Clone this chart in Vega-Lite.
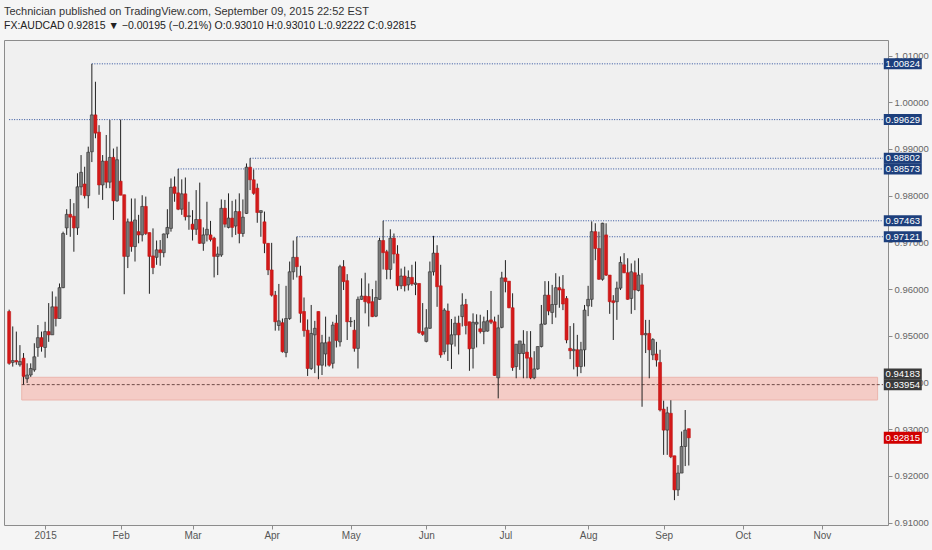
{
  "$schema": "https://vega.github.io/schema/vega-lite/v6.json",
  "width": 884,
  "height": 485,
  "autosize": "none",
  "padding": {"left": 4, "top": 40, "right": 44, "bottom": 25},
  "background": "#f5f5f5",
  "title": {
    "text": "Technician published on TradingView.com, September 09, 2015 22:52 EST",
    "subtitle": "FX:AUDCAD 0.92815 \u25bc \u22120.00195 (\u22120.21%) O:0.93010 H:0.93010 L:0.92222 C:0.92815",
    "anchor": "start",
    "frame": "group",
    "offset": 9,
    "font": "Liberation Sans, sans-serif",
    "fontSize": 11,
    "fontWeight": "normal",
    "color": "#333333",
    "subtitleFont": "Liberation Sans, sans-serif",
    "subtitleFontSize": 10.5,
    "subtitleColor": "#222222",
    "subtitlePadding": 4
  },
  "datasets": {
    "bars": [
      {"i": -10, "o": 0.9552, "h": 0.9556, "l": 0.9438, "c": 0.9441},
      {"i": -9, "o": 0.9443, "h": 0.9520, "l": 0.9434, "c": 0.9447},
      {"i": -8, "o": 0.9447, "h": 0.9509, "l": 0.9438, "c": 0.9444},
      {"i": -7, "o": 0.9438, "h": 0.9480, "l": 0.9434, "c": 0.9445},
      {"i": -6, "o": 0.9452, "h": 0.9463, "l": 0.93954, "c": 0.9413},
      {"i": -5, "o": 0.9408, "h": 0.9441, "l": 0.9399, "c": 0.9416},
      {"i": -4, "o": 0.9416, "h": 0.9441, "l": 0.9412, "c": 0.9430},
      {"i": -3, "o": 0.9427, "h": 0.9484, "l": 0.9423, "c": 0.9455},
      {"i": -2, "o": 0.9475, "h": 0.9523, "l": 0.9455, "c": 0.9496},
      {"i": -1, "o": 0.9496, "h": 0.9509, "l": 0.9466, "c": 0.9477},
      {"i": 0, "o": 0.9475, "h": 0.9530, "l": 0.9453, "c": 0.9509},
      {"i": 1, "o": 0.9509, "h": 0.9570, "l": 0.9487, "c": 0.9502},
      {"i": 2, "o": 0.9502, "h": 0.9595, "l": 0.9502, "c": 0.9562},
      {"i": 3, "o": 0.9562, "h": 0.9584, "l": 0.9520, "c": 0.9537},
      {"i": 4, "o": 0.9537, "h": 0.9612, "l": 0.9537, "c": 0.9603},
      {"i": 5, "o": 0.9603, "h": 0.9723, "l": 0.9602, "c": 0.9719},
      {"i": 6, "o": 0.9731, "h": 0.9771, "l": 0.9716, "c": 0.9760},
      {"i": 7, "o": 0.9760, "h": 0.9793, "l": 0.9712, "c": 0.9754},
      {"i": 8, "o": 0.9756, "h": 0.9784, "l": 0.9680, "c": 0.9731},
      {"i": 9, "o": 0.9731, "h": 0.9848, "l": 0.9716, "c": 0.9819},
      {"i": 10, "o": 0.9819, "h": 0.9887, "l": 0.9801, "c": 0.9850},
      {"i": 11, "o": 0.9825, "h": 0.9862, "l": 0.9794, "c": 0.9800},
      {"i": 12, "o": 0.9800, "h": 0.9905, "l": 0.9773, "c": 0.9893},
      {"i": 13, "o": 0.9894, "h": 1.00824, "l": 0.9872, "c": 0.9973},
      {"i": 14, "o": 0.9973, "h": 1.0044, "l": 0.9923, "c": 0.9934},
      {"i": 15, "o": 0.9936, "h": 0.9951, "l": 0.9802, "c": 0.9823},
      {"i": 16, "o": 0.9823, "h": 0.9887, "l": 0.9791, "c": 0.9874},
      {"i": 17, "o": 0.9874, "h": 0.9930, "l": 0.9816, "c": 0.9829},
      {"i": 18, "o": 0.9829, "h": 0.9962, "l": 0.9816, "c": 0.9882},
      {"i": 19, "o": 0.9882, "h": 0.9901, "l": 0.9748, "c": 0.9789},
      {"i": 20, "o": 0.9789, "h": 0.9905, "l": 0.9787, "c": 0.9877},
      {"i": 21, "o": 0.9831, "h": 0.99629, "l": 0.9801, "c": 0.9801},
      {"i": 22, "o": 0.9802, "h": 0.9802, "l": 0.9589, "c": 0.9670},
      {"i": 23, "o": 0.9670, "h": 0.9751, "l": 0.9645, "c": 0.9744},
      {"i": 24, "o": 0.9744, "h": 0.9794, "l": 0.9680, "c": 0.9691},
      {"i": 25, "o": 0.9691, "h": 0.9794, "l": 0.9659, "c": 0.9748},
      {"i": 26, "o": 0.9723, "h": 0.9759, "l": 0.9698, "c": 0.9716},
      {"i": 27, "o": 0.9716, "h": 0.9801, "l": 0.9702, "c": 0.9777},
      {"i": 28, "o": 0.9777, "h": 0.9798, "l": 0.9716, "c": 0.9719},
      {"i": 29, "o": 0.9721, "h": 0.9721, "l": 0.9590, "c": 0.9670},
      {"i": 30, "o": 0.9671, "h": 0.9730, "l": 0.9632, "c": 0.9646},
      {"i": 31, "o": 0.9668, "h": 0.9704, "l": 0.9652, "c": 0.9684},
      {"i": 32, "o": 0.9684, "h": 0.9705, "l": 0.9650, "c": 0.9678},
      {"i": 33, "o": 0.9678, "h": 0.9719, "l": 0.9668, "c": 0.9718},
      {"i": 34, "o": 0.9718, "h": 0.9771, "l": 0.9709, "c": 0.9732},
      {"i": 35, "o": 0.9730, "h": 0.9837, "l": 0.9723, "c": 0.9818},
      {"i": 36, "o": 0.9819, "h": 0.9841, "l": 0.9787, "c": 0.9805},
      {"i": 37, "o": 0.9806, "h": 0.98573, "l": 0.9769, "c": 0.9771},
      {"i": 38, "o": 0.9771, "h": 0.9835, "l": 0.9759, "c": 0.9804},
      {"i": 39, "o": 0.9804, "h": 0.9839, "l": 0.9747, "c": 0.9755},
      {"i": 40, "o": 0.9755, "h": 0.9787, "l": 0.9727, "c": 0.9757},
      {"i": 41, "o": 0.9739, "h": 0.9769, "l": 0.9704, "c": 0.9728},
      {"i": 42, "o": 0.9728, "h": 0.9812, "l": 0.9716, "c": 0.9749},
      {"i": 43, "o": 0.9749, "h": 0.9828, "l": 0.9697, "c": 0.9698},
      {"i": 44, "o": 0.9698, "h": 0.9732, "l": 0.9682, "c": 0.9716},
      {"i": 45, "o": 0.9716, "h": 0.9787, "l": 0.9702, "c": 0.9728},
      {"i": 46, "o": 0.9716, "h": 0.9746, "l": 0.9702, "c": 0.9706},
      {"i": 47, "o": 0.9709, "h": 0.9712, "l": 0.9625, "c": 0.9670},
      {"i": 48, "o": 0.9670, "h": 0.9691, "l": 0.9630, "c": 0.9675},
      {"i": 49, "o": 0.9673, "h": 0.9792, "l": 0.9669, "c": 0.9773},
      {"i": 50, "o": 0.9773, "h": 0.9791, "l": 0.9732, "c": 0.9739},
      {"i": 51, "o": 0.9732, "h": 0.9805, "l": 0.9730, "c": 0.9752},
      {"i": 52, "o": 0.9752, "h": 0.9789, "l": 0.9711, "c": 0.9732},
      {"i": 53, "o": 0.9735, "h": 0.9792, "l": 0.9716, "c": 0.9766},
      {"i": 54, "o": 0.9766, "h": 0.9805, "l": 0.9698, "c": 0.9719},
      {"i": 55, "o": 0.9719, "h": 0.9792, "l": 0.9712, "c": 0.9754},
      {"i": 56, "o": 0.9762, "h": 0.9869, "l": 0.9761, "c": 0.9861},
      {"i": 57, "o": 0.9861, "h": 0.98802, "l": 0.9812, "c": 0.9834},
      {"i": 58, "o": 0.9834, "h": 0.9856, "l": 0.9802, "c": 0.9805},
      {"i": 59, "o": 0.9816, "h": 0.9826, "l": 0.9742, "c": 0.9764},
      {"i": 60, "o": 0.9764, "h": 0.9768, "l": 0.9712, "c": 0.9768},
      {"i": 61, "o": 0.9744, "h": 0.9766, "l": 0.9677, "c": 0.9698},
      {"i": 62, "o": 0.9698, "h": 0.9698, "l": 0.9630, "c": 0.9641},
      {"i": 63, "o": 0.9641, "h": 0.9699, "l": 0.9584, "c": 0.9587},
      {"i": 64, "o": 0.9587, "h": 0.9596, "l": 0.9511, "c": 0.9530},
      {"i": 65, "o": 0.9522, "h": 0.9611, "l": 0.9511, "c": 0.9532},
      {"i": 66, "o": 0.9528, "h": 0.9537, "l": 0.9464, "c": 0.9466},
      {"i": 67, "o": 0.9464, "h": 0.9607, "l": 0.9454, "c": 0.9537},
      {"i": 68, "o": 0.9537, "h": 0.9659, "l": 0.9534, "c": 0.9637},
      {"i": 69, "o": 0.9637, "h": 0.9704, "l": 0.9620, "c": 0.9668},
      {"i": 70, "o": 0.9668, "h": 0.97121, "l": 0.9625, "c": 0.9648},
      {"i": 71, "o": 0.9628, "h": 0.9650, "l": 0.9528, "c": 0.9548},
      {"i": 72, "o": 0.9552, "h": 0.9582, "l": 0.9498, "c": 0.9511},
      {"i": 73, "o": 0.9512, "h": 0.9535, "l": 0.9414, "c": 0.9430},
      {"i": 74, "o": 0.9430, "h": 0.9566, "l": 0.9427, "c": 0.9505},
      {"i": 75, "o": 0.9502, "h": 0.9532, "l": 0.9420, "c": 0.9516},
      {"i": 76, "o": 0.9552, "h": 0.9552, "l": 0.9407, "c": 0.9437},
      {"i": 77, "o": 0.9437, "h": 0.9502, "l": 0.9416, "c": 0.9485},
      {"i": 78, "o": 0.9461, "h": 0.9541, "l": 0.9434, "c": 0.9485},
      {"i": 79, "o": 0.9487, "h": 0.9498, "l": 0.9434, "c": 0.9437},
      {"i": 80, "o": 0.9441, "h": 0.9530, "l": 0.9430, "c": 0.9523},
      {"i": 81, "o": 0.9527, "h": 0.9545, "l": 0.9475, "c": 0.9490},
      {"i": 82, "o": 0.9487, "h": 0.9652, "l": 0.9477, "c": 0.9648},
      {"i": 83, "o": 0.9648, "h": 0.9662, "l": 0.9598, "c": 0.9616},
      {"i": 84, "o": 0.9618, "h": 0.9632, "l": 0.9491, "c": 0.9530},
      {"i": 85, "o": 0.9530, "h": 0.9540, "l": 0.9519, "c": 0.9531},
      {"i": 86, "o": 0.9512, "h": 0.9534, "l": 0.9466, "c": 0.9473},
      {"i": 87, "o": 0.9473, "h": 0.9584, "l": 0.9430, "c": 0.9578},
      {"i": 88, "o": 0.9578, "h": 0.9623, "l": 0.9577, "c": 0.9585},
      {"i": 89, "o": 0.9585, "h": 0.9635, "l": 0.9548, "c": 0.9573},
      {"i": 90, "o": 0.9584, "h": 0.9612, "l": 0.9520, "c": 0.9570},
      {"i": 91, "o": 0.9573, "h": 0.9600, "l": 0.9540, "c": 0.9541},
      {"i": 92, "o": 0.9542, "h": 0.9618, "l": 0.9540, "c": 0.9582},
      {"i": 93, "o": 0.9578, "h": 0.9710, "l": 0.9577, "c": 0.9704},
      {"i": 94, "o": 0.9704, "h": 0.97463, "l": 0.9642, "c": 0.9678},
      {"i": 95, "o": 0.9680, "h": 0.9684, "l": 0.9621, "c": 0.9642},
      {"i": 96, "o": 0.9642, "h": 0.9728, "l": 0.9621, "c": 0.9709},
      {"i": 97, "o": 0.9709, "h": 0.9719, "l": 0.9655, "c": 0.9675},
      {"i": 98, "o": 0.9675, "h": 0.9694, "l": 0.9597, "c": 0.9607},
      {"i": 99, "o": 0.9607, "h": 0.9644, "l": 0.9600, "c": 0.9628},
      {"i": 100, "o": 0.9628, "h": 0.9648, "l": 0.9595, "c": 0.9607},
      {"i": 101, "o": 0.9609, "h": 0.9640, "l": 0.9597, "c": 0.9625},
      {"i": 102, "o": 0.9625, "h": 0.9652, "l": 0.9607, "c": 0.9611},
      {"i": 103, "o": 0.9610, "h": 0.9659, "l": 0.9587, "c": 0.9613},
      {"i": 104, "o": 0.9612, "h": 0.9612, "l": 0.9504, "c": 0.9507},
      {"i": 105, "o": 0.9509, "h": 0.9570, "l": 0.9500, "c": 0.9503},
      {"i": 106, "o": 0.9488, "h": 0.9557, "l": 0.9486, "c": 0.9517},
      {"i": 107, "o": 0.9516, "h": 0.9659, "l": 0.9515, "c": 0.9637},
      {"i": 108, "o": 0.9637, "h": 0.9714, "l": 0.9629, "c": 0.9677},
      {"i": 109, "o": 0.9677, "h": 0.9694, "l": 0.9562, "c": 0.9605},
      {"i": 110, "o": 0.9607, "h": 0.9652, "l": 0.9453, "c": 0.9459},
      {"i": 111, "o": 0.9466, "h": 0.9559, "l": 0.9460, "c": 0.9555},
      {"i": 112, "o": 0.9553, "h": 0.9569, "l": 0.9446, "c": 0.9482},
      {"i": 113, "o": 0.9482, "h": 0.9536, "l": 0.9429, "c": 0.9502},
      {"i": 114, "o": 0.9502, "h": 0.9541, "l": 0.9477, "c": 0.9527},
      {"i": 115, "o": 0.9527, "h": 0.9543, "l": 0.9460, "c": 0.9502},
      {"i": 116, "o": 0.9541, "h": 0.9591, "l": 0.9520, "c": 0.9566},
      {"i": 117, "o": 0.9567, "h": 0.9579, "l": 0.9503, "c": 0.9522},
      {"i": 118, "o": 0.9530, "h": 0.9530, "l": 0.9425, "c": 0.9472},
      {"i": 119, "o": 0.9473, "h": 0.9548, "l": 0.9430, "c": 0.9529},
      {"i": 120, "o": 0.9525, "h": 0.9546, "l": 0.9475, "c": 0.9529},
      {"i": 121, "o": 0.9515, "h": 0.9545, "l": 0.9505, "c": 0.9509},
      {"i": 122, "o": 0.9509, "h": 0.9541, "l": 0.9482, "c": 0.9530},
      {"i": 123, "o": 0.9510, "h": 0.9555, "l": 0.9509, "c": 0.9532},
      {"i": 124, "o": 0.9534, "h": 0.9596, "l": 0.9525, "c": 0.9529},
      {"i": 125, "o": 0.9530, "h": 0.9541, "l": 0.9414, "c": 0.9415},
      {"i": 126, "o": 0.9410, "h": 0.9545, "l": 0.9366, "c": 0.9517},
      {"i": 127, "o": 0.9518, "h": 0.9637, "l": 0.9516, "c": 0.9624},
      {"i": 128, "o": 0.9624, "h": 0.9662, "l": 0.9593, "c": 0.9616},
      {"i": 129, "o": 0.9617, "h": 0.9617, "l": 0.9559, "c": 0.9560},
      {"i": 130, "o": 0.9560, "h": 0.9591, "l": 0.9425, "c": 0.9432},
      {"i": 131, "o": 0.9434, "h": 0.9482, "l": 0.9409, "c": 0.9482},
      {"i": 132, "o": 0.9462, "h": 0.9489, "l": 0.9427, "c": 0.9489},
      {"i": 133, "o": 0.9462, "h": 0.9512, "l": 0.9409, "c": 0.9482},
      {"i": 134, "o": 0.9465, "h": 0.9510, "l": 0.9409, "c": 0.9452},
      {"i": 135, "o": 0.9453, "h": 0.9510, "l": 0.9407, "c": 0.9410},
      {"i": 136, "o": 0.9410, "h": 0.9467, "l": 0.9407, "c": 0.9429},
      {"i": 137, "o": 0.9429, "h": 0.9477, "l": 0.9427, "c": 0.9477},
      {"i": 138, "o": 0.9477, "h": 0.9566, "l": 0.9475, "c": 0.9525},
      {"i": 139, "o": 0.9525, "h": 0.9617, "l": 0.9523, "c": 0.9587},
      {"i": 140, "o": 0.9587, "h": 0.9617, "l": 0.9544, "c": 0.9553},
      {"i": 141, "o": 0.9550, "h": 0.9609, "l": 0.9525, "c": 0.9567},
      {"i": 142, "o": 0.9567, "h": 0.9634, "l": 0.9539, "c": 0.9603},
      {"i": 143, "o": 0.9603, "h": 0.9627, "l": 0.9560, "c": 0.9598},
      {"i": 144, "o": 0.9600, "h": 0.9630, "l": 0.9555, "c": 0.9568},
      {"i": 145, "o": 0.9580, "h": 0.9585, "l": 0.9484, "c": 0.9491},
      {"i": 146, "o": 0.9473, "h": 0.9521, "l": 0.9450, "c": 0.9468},
      {"i": 147, "o": 0.9468, "h": 0.9527, "l": 0.9428, "c": 0.9471},
      {"i": 148, "o": 0.9470, "h": 0.9502, "l": 0.9413, "c": 0.9434},
      {"i": 149, "o": 0.9434, "h": 0.9487, "l": 0.9420, "c": 0.9470},
      {"i": 150, "o": 0.9470, "h": 0.9566, "l": 0.9434, "c": 0.9555},
      {"i": 151, "o": 0.9564, "h": 0.9607, "l": 0.9542, "c": 0.9578},
      {"i": 152, "o": 0.9578, "h": 0.9745, "l": 0.9562, "c": 0.9723},
      {"i": 153, "o": 0.9723, "h": 0.9741, "l": 0.9662, "c": 0.9687},
      {"i": 154, "o": 0.9687, "h": 0.9723, "l": 0.9620, "c": 0.9621},
      {"i": 155, "o": 0.9621, "h": 0.9742, "l": 0.9618, "c": 0.9741},
      {"i": 156, "o": 0.9716, "h": 0.9741, "l": 0.9628, "c": 0.9630},
      {"i": 157, "o": 0.9630, "h": 0.9630, "l": 0.9547, "c": 0.9573},
      {"i": 158, "o": 0.9575, "h": 0.9587, "l": 0.9491, "c": 0.9571},
      {"i": 159, "o": 0.9573, "h": 0.9616, "l": 0.9534, "c": 0.9602},
      {"i": 160, "o": 0.9602, "h": 0.9670, "l": 0.9598, "c": 0.9657},
      {"i": 161, "o": 0.9652, "h": 0.9677, "l": 0.9634, "c": 0.9635},
      {"i": 162, "o": 0.9635, "h": 0.9666, "l": 0.9577, "c": 0.9578},
      {"i": 163, "o": 0.9580, "h": 0.9655, "l": 0.9547, "c": 0.9637},
      {"i": 164, "o": 0.9635, "h": 0.9661, "l": 0.9555, "c": 0.9598},
      {"i": 165, "o": 0.9597, "h": 0.9666, "l": 0.9595, "c": 0.9630},
      {"i": 166, "o": 0.9609, "h": 0.9634, "l": 0.9348, "c": 0.9502},
      {"i": 167, "o": 0.9502, "h": 0.9534, "l": 0.9463, "c": 0.9505},
      {"i": 168, "o": 0.9505, "h": 0.9534, "l": 0.9409, "c": 0.9470},
      {"i": 169, "o": 0.9459, "h": 0.9495, "l": 0.9448, "c": 0.9492},
      {"i": 170, "o": 0.9461, "h": 0.9487, "l": 0.9434, "c": 0.9448},
      {"i": 171, "o": 0.9443, "h": 0.9470, "l": 0.9338, "c": 0.9341},
      {"i": 172, "o": 0.9343, "h": 0.9361, "l": 0.9245, "c": 0.9298},
      {"i": 173, "o": 0.9298, "h": 0.9348, "l": 0.9245, "c": 0.9335},
      {"i": 174, "o": 0.9334, "h": 0.9362, "l": 0.9238, "c": 0.9241},
      {"i": 175, "o": 0.9243, "h": 0.9243, "l": 0.9148, "c": 0.9170},
      {"i": 176, "o": 0.9170, "h": 0.9223, "l": 0.9157, "c": 0.9206},
      {"i": 177, "o": 0.9206, "h": 0.9295, "l": 0.9206, "c": 0.9263},
      {"i": 178, "o": 0.9263, "h": 0.9341, "l": 0.9221, "c": 0.9298},
      {"i": 179, "o": 0.93010, "h": 0.93010, "l": 0.92222, "c": 0.92815}
    ],
    "levels": [
      {"lv": 1.00824, "s": 13},
      {"lv": 0.99629, "s": -10},
      {"lv": 0.98802, "s": 57},
      {"lv": 0.98573, "s": 37},
      {"lv": 0.97463, "s": 94},
      {"lv": 0.97121, "s": 70}
    ],
    "zone": [
      {"lo": 0.93625, "hi": 0.94111, "s": -6.5, "e": 231.5, "line": 0.93954, "top": 0.94183}
    ]
  },
  "layer": [
    {
      "data": {"name": "zone"},
      "mark": {"type": "rect", "fill": "#f4ccc6", "stroke": "#ebb6ae", "strokeWidth": 1},
      "encoding": {
        "x": {
          "field": "s", "type": "quantitative", "title": null,
          "scale": {"domain": [-10.04, 233], "nice": false, "zero": false},
          "axis": {
            "values": [0, 21, 41, 63, 85, 106, 128, 151, 172, 194, 216],
            "labelExpr": "['2015','Feb','Mar','Apr','May','Jun','Jul','Aug','Sep','Oct','Nov'][indexof([0,21,41,63,85,106,128,151,172,194,216], datum.value)]",
            "grid": false, "domain": false, "tickSize": 4, "tickColor": "#8c8c8c",
            "labelColor": "#555555", "labelFontSize": 10, "labelPadding": 1,
            "labelFont": "Liberation Sans, sans-serif",
            "labelFlush": false, "labelOverlap": false
          }
        },
        "x2": {"field": "e"},
        "y": {
          "field": "lo", "type": "quantitative", "title": null,
          "scale": {"domain": [0.90948, 1.01334], "nice": false, "zero": false},
          "axis": {
            "orient": "right",
            "values": [0.91, 0.92, 0.93, 0.94, 0.95, 0.96, 0.97, 0.98, 0.99, 1.0, 1.01],
            "format": ".5f",
            "grid": false, "domain": false, "tickSize": 4, "tickColor": "#8c8c8c",
            "labelColor": "#666666", "labelFontSize": 9.5, "labelPadding": 2,
            "labelFont": "Liberation Sans, sans-serif", "labelOverlap": false
          }
        },
        "y2": {"field": "hi"}
      }
    },
    {
      "data": {"name": "zone"},
      "mark": {"type": "rule", "color": "#6e4b46", "strokeWidth": 1, "strokeDash": [3, 2]},
      "encoding": {
        "x": {"field": "s", "type": "quantitative", "title": null},
        "x2": {"datum": 233},
        "y": {"field": "line", "type": "quantitative", "title": null}
      }
    },
    {
      "data": {"name": "levels"},
      "mark": {"type": "rule", "color": "#2c4f9c", "strokeWidth": 1, "strokeDash": [1, 1.5], "clip": true},
      "encoding": {
        "x": {"field": "s", "type": "quantitative", "title": null},
        "x2": {"datum": 233},
        "y": {"field": "lv", "type": "quantitative", "title": null}
      }
    },
    {
      "data": {"name": "bars"},
      "mark": {"type": "rule", "color": "#222222", "strokeWidth": 1, "clip": true},
      "encoding": {
        "x": {"field": "i", "type": "quantitative", "title": null},
        "y": {"field": "l", "type": "quantitative", "title": null},
        "y2": {"field": "h"}
      }
    },
    {
      "data": {"name": "bars"},
      "mark": {"type": "bar", "width": 3, "strokeWidth": 0.6, "clip": true},
      "encoding": {
        "x": {"field": "i", "type": "quantitative", "title": null},
        "y": {"field": "o", "type": "quantitative", "title": null},
        "y2": {"field": "c"},
        "fill": {"condition": {"test": "datum.c < datum.o", "value": "#d41a1a"}, "value": "#7a7a7a"},
        "stroke": {"condition": {"test": "datum.c < datum.o", "value": "#c01414"}, "value": "#2e2e2e"}
      }
    },
    {
      "mark": {
        "type": "text", "text": "Australian Dollar/Canadian Dollar, D, FXCM",
        "align": "left", "baseline": "middle", "fontSize": 10.5, "color": "#555555",
        "font": "Liberation Sans, sans-serif"
      },
      "encoding": {
        "x": {"datum": -7.84, "type": "quantitative", "title": null},
        "y": {"datum": 1.01056, "type": "quantitative", "title": null}
      }
    },
    {
      "data": {"name": "levels"},
      "layer": [
        {
          "mark": {"type": "tick", "orient": "horizontal", "size": 38, "thickness": 11, "color": "#1d3f7c", "opacity": 1},
          "encoding": {
            "x": {"datum": 238.5, "type": "quantitative", "title": null},
            "y": {"field": "lv", "type": "quantitative", "title": null}
          }
        },
        {
          "mark": {"type": "text", "color": "#ffffff", "fontSize": 9.5, "baseline": "middle", "align": "center", "font": "Liberation Sans, sans-serif"},
          "encoding": {
            "x": {"datum": 238.5, "type": "quantitative", "title": null},
            "y": {"field": "lv", "type": "quantitative", "title": null},
            "text": {"field": "lv", "type": "quantitative", "format": ".5f"}
          }
        }
      ]
    },
    {
      "data": {"name": "zone"},
      "layer": [
        {
          "mark": {"type": "tick", "orient": "horizontal", "size": 38, "thickness": 11, "color": "#3a3a3a", "opacity": 1},
          "encoding": {
            "x": {"datum": 238.5, "type": "quantitative", "title": null},
            "y": {"field": "top", "type": "quantitative", "title": null}
          }
        },
        {
          "mark": {"type": "text", "color": "#ffffff", "fontSize": 9.5, "baseline": "middle", "align": "center", "font": "Liberation Sans, sans-serif"},
          "encoding": {
            "x": {"datum": 238.5, "type": "quantitative", "title": null},
            "y": {"field": "top", "type": "quantitative", "title": null},
            "text": {"field": "top", "type": "quantitative", "format": ".5f"}
          }
        },
        {
          "mark": {"type": "tick", "orient": "horizontal", "size": 38, "thickness": 11, "color": "#3a3a3a", "opacity": 1},
          "encoding": {
            "x": {"datum": 238.5, "type": "quantitative", "title": null},
            "y": {"field": "line", "type": "quantitative", "title": null}
          }
        },
        {
          "mark": {"type": "text", "color": "#ffffff", "fontSize": 9.5, "baseline": "middle", "align": "center", "font": "Liberation Sans, sans-serif"},
          "encoding": {
            "x": {"datum": 238.5, "type": "quantitative", "title": null},
            "y": {"field": "line", "type": "quantitative", "title": null},
            "text": {"field": "line", "type": "quantitative", "format": ".5f"}
          }
        }
      ]
    },
    {
      "data": {"name": "bars"},
      "transform": [{"filter": "datum.i == 179"}],
      "layer": [
        {
          "mark": {"type": "tick", "orient": "horizontal", "size": 38, "thickness": 12, "color": "#d10000", "opacity": 1},
          "encoding": {
            "x": {"datum": 238.5, "type": "quantitative", "title": null},
            "y": {"field": "c", "type": "quantitative", "title": null}
          }
        },
        {
          "mark": {"type": "text", "color": "#ffffff", "fontSize": 9.5, "baseline": "middle", "align": "center", "font": "Liberation Sans, sans-serif"},
          "encoding": {
            "x": {"datum": 238.5, "type": "quantitative", "title": null},
            "y": {"field": "c", "type": "quantitative", "title": null},
            "text": {"field": "c", "type": "quantitative", "format": ".5f"}
          }
        }
      ]
    }
  ],
  "config": {
    "view": {"fill": "#f0f0f0", "stroke": "#8c8c8c", "strokeWidth": 1}
  }
}
